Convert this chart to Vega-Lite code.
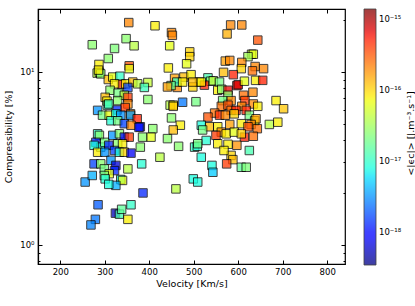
{
  "$schema": "https://vega.github.io/schema/vega-lite/v6.json",
  "width": 307,
  "height": 255,
  "autosize": {"type": "none"},
  "padding": {"left": 38, "top": 9, "right": 70, "bottom": 42},
  "background": "white",
  "config": {
    "font": "DejaVu Sans",
    "view": {"stroke": "#000", "strokeWidth": 1.2},
    "axis": {"domainColor": "#000", "domainWidth": 1.2, "tickColor": "#000", "labelColor": "#000", "titleColor": "#000", "labelFontSize": 8.5, "titleFontSize": 9.5, "titleFontWeight": "normal", "grid": false, "labelFont": "DejaVu Sans", "titleFont": "DejaVu Sans"}
  },
  "data": {"values": [
    {"v":354,"c":19.2,"e":2e-16},{"v":413,"c":18.4,"e":7.9e-17},{"v":450,"c":16.8,"e":2e-16},{"v":452,"c":16.2,"e":2e-16},{"v":446,"c":14.1,"e":6.3e-17},
    {"v":348,"c":15.5,"e":2.5e-17},{"v":366,"c":14.1,"e":4e-17},{"v":272,"c":14.3,"e":2.5e-17},{"v":322,"c":13.6,"e":2.2e-17},{"v":308,"c":11.9,"e":2.5e-17},
    {"v":583,"c":18.6,"e":2e-16},{"v":608,"c":18.6,"e":2e-16},{"v":575,"c":16.5,"e":1.4e-16},{"v":644,"c":15.2,"e":3.2e-16},{"v":491,"c":13.0,"e":1e-16},
    {"v":491,"c":12.2,"e":1e-16},{"v":484,"c":11.1,"e":6.3e-17},{"v":287,"c":11.0,"e":7.9e-17},{"v":283,"c":9.8,"e":4e-17},{"v":288,"c":9.9,"e":2.5e-17},
    {"v":355,"c":10.8,"e":3.2e-16},{"v":355,"c":10.4,"e":6.3e-17},{"v":443,"c":10.5,"e":7.9e-17},{"v":630,"c":12.6,"e":4.5e-17},{"v":634,"c":12.6,"e":6.3e-17},
    {"v":622,"c":12.2,"e":3.2e-17},{"v":571,"c":11.5,"e":1.6e-16},{"v":581,"c":11.6,"e":2e-16},{"v":608,"c":11.3,"e":2e-16},{"v":638,"c":10.7,"e":2e-16},
    {"v":657,"c":10.4,"e":2e-16},{"v":607,"c":10.4,"e":1e-16},{"v":567,"c":9.9,"e":1.26e-16},{"v":589,"c":9.6,"e":5e-16},{"v":632,"c":10.1,"e":2.5e-16},
    {"v":478,"c":9.3,"e":1.26e-16},{"v":494,"c":9.6,"e":7.9e-17},{"v":457,"c":9.15,"e":1.6e-16},{"v":463,"c":8.1,"e":2e-16},{"v":462,"c":8.7,"e":1e-17},
    {"v":449,"c":8.3,"e":2e-17},{"v":441,"c":8.15,"e":1.6e-16},{"v":513,"c":8.7,"e":7.9e-17},{"v":498,"c":8.15,"e":1e-16},{"v":532,"c":9.2,"e":1.26e-17},
    {"v":538,"c":8.8,"e":2.5e-17},{"v":544,"c":8.85,"e":4e-17},{"v":558,"c":8.7,"e":2e-17},{"v":524,"c":8.35,"e":5e-16},{"v":554,"c":7.8,"e":7.9e-17},
    {"v":563,"c":7.9,"e":2.5e-17},{"v":577,"c":7.8,"e":6.3e-16},{"v":597,"c":8.3,"e":6.3e-16},{"v":600,"c":8.4,"e":7.1e-16},{"v":614,"c":8.8,"e":6.3e-17},
    {"v":639,"c":8.9,"e":7.9e-17},{"v":655,"c":8.9,"e":5e-16},{"v":633,"c":7.6,"e":2e-16},{"v":577,"c":7.3,"e":2.5e-17},{"v":584,"c":6.8,"e":2e-16},
    {"v":612,"c":7.3,"e":2.5e-16},{"v":615,"c":6.8,"e":4e-16},{"v":565,"c":6.8,"e":2e-17},{"v":562,"c":6.3,"e":2.5e-16},{"v":577,"c":6.4,"e":3.2e-16},
    {"v":584,"c":5.97,"e":2.5e-16},{"v":634,"c":6.5,"e":2e-16},{"v":644,"c":6.3,"e":7.9e-17},{"v":608,"c":6.3,"e":2e-16},{"v":595,"c":5.97,"e":5e-16},
    {"v":618,"c":5.97,"e":5e-16},{"v":685,"c":6.8,"e":7.9e-17},{"v":702,"c":6.1,"e":1.12e-16},{"v":547,"c":5.76,"e":2.5e-16},{"v":532,"c":5.46,"e":3.2e-16},
    {"v":558,"c":5.6,"e":4.5e-16},{"v":571,"c":5.6,"e":2e-16},{"v":591,"c":5.7,"e":1e-16},{"v":625,"c":5.6,"e":2e-17},{"v":637,"c":5.2,"e":6.3e-17},
    {"v":640,"c":5.34,"e":1.6e-16},{"v":535,"c":4.8,"e":1.26e-16},{"v":554,"c":4.8,"e":7.9e-17},{"v":581,"c":4.95,"e":1.6e-16},{"v":607,"c":5.0,"e":7.9e-17},
    {"v":629,"c":4.95,"e":2e-16},{"v":643,"c":4.68,"e":2.5e-16},{"v":622,"c":4.8,"e":3.2e-16},{"v":670,"c":4.95,"e":4e-17},{"v":689,"c":5.1,"e":7.9e-17},
    {"v":562,"c":4.47,"e":1.8e-16},{"v":550,"c":4.28,"e":4e-16},{"v":573,"c":4.37,"e":7.9e-17},{"v":591,"c":4.47,"e":6.3e-17},{"v":614,"c":4.18,"e":5e-16},
    {"v":634,"c":4.23,"e":2.5e-16},{"v":607,"c":4.37,"e":1e-16},{"v":554,"c":3.83,"e":7.9e-17},{"v":577,"c":3.8,"e":7.9e-17},{"v":597,"c":3.75,"e":1.8e-16},
    {"v":625,"c":3.5,"e":1.26e-17},{"v":584,"c":3.28,"e":1e-16},{"v":588,"c":3.1,"e":1.26e-16},{"v":574,"c":2.93,"e":4e-16},{"v":568,"c":3.5,"e":7.9e-17},
    {"v":607,"c":2.8,"e":1.6e-17},{"v":618,"c":2.8,"e":2.2e-17},
    {"v":447,"c":6.4,"e":4e-17},{"v":454,"c":6.4,"e":7.9e-17},{"v":475,"c":6.65,"e":2.5e-18},{"v":505,"c":6.7,"e":2e-17},{"v":450,"c":5.4,"e":2.5e-17},
    {"v":454,"c":6.3,"e":1.12e-16},{"v":470,"c":4.9,"e":7.9e-17},{"v":454,"c":4.6,"e":1.26e-16},{"v":517,"c":4.9,"e":7.9e-18},{"v":520,"c":4.6,"e":2e-17},
    {"v":528,"c":4.0,"e":8.9e-18},{"v":441,"c":4.1,"e":2.5e-17},{"v":466,"c":3.7,"e":2.5e-17},{"v":502,"c":3.66,"e":1e-17},{"v":508,"c":3.7,"e":8.9e-18},
    {"v":509,"c":3.83,"e":2e-17},{"v":517,"c":3.2,"e":7.9e-18},{"v":424,"c":3.2,"e":4e-17},{"v":541,"c":2.87,"e":7.9e-18},{"v":543,"c":2.62,"e":5e-18},
    {"v":499,"c":2.4,"e":7.9e-18},{"v":509,"c":2.3,"e":7.9e-18},{"v":460,"c":2.1,"e":4e-17},{"v":475,"c":8.7,"e":7.9e-17},{"v":498,"c":8.7,"e":1.26e-16},
    {"v":517,"c":8.7,"e":7.9e-17},
    {"v":291,"c":9.7,"e":2.5e-17},{"v":286,"c":10.2,"e":7.9e-17},{"v":308,"c":9.0,"e":1.26e-16},{"v":318,"c":9.3,"e":6.3e-17},{"v":334,"c":9.4,"e":1e-17},
    {"v":338,"c":8.45,"e":4e-16},{"v":322,"c":8.5,"e":7.9e-17},{"v":347,"c":8.5,"e":7.9e-17},{"v":363,"c":8.7,"e":1.26e-16},{"v":374,"c":8.5,"e":4e-17},
    {"v":397,"c":8.65,"e":4.5e-17},{"v":389,"c":8.1,"e":1.12e-17},{"v":352,"c":8.1,"e":1.6e-18},{"v":312,"c":7.8,"e":2.5e-17},{"v":330,"c":7.5,"e":2e-17},
    {"v":344,"c":7.3,"e":4e-17},{"v":352,"c":7.1,"e":4e-16},{"v":301,"c":7.1,"e":1.26e-16},{"v":305,"c":6.75,"e":7.9e-17},{"v":306,"c":6.4,"e":1e-17},
    {"v":329,"c":6.8,"e":2.5e-17},{"v":352,"c":6.5,"e":2e-16},{"v":397,"c":6.9,"e":2.5e-17},{"v":284,"c":5.97,"e":3.2e-18},{"v":309,"c":6.5,"e":1.26e-17},
    {"v":328,"c":6.0,"e":1.26e-18},{"v":346,"c":6.2,"e":4e-16},{"v":358,"c":5.7,"e":2e-16},{"v":295,"c":5.6,"e":2e-17},{"v":310,"c":5.6,"e":6.3e-17},
    {"v":325,"c":5.7,"e":7.9e-18},{"v":336,"c":5.6,"e":3.2e-18},{"v":358,"c":5.6,"e":3.5e-18},{"v":373,"c":5.34,"e":5e-16},{"v":314,"c":5.2,"e":8.9e-18},
    {"v":329,"c":5.2,"e":2e-17},{"v":344,"c":5.0,"e":1.6e-18},{"v":359,"c":4.9,"e":2e-16},{"v":380,"c":4.8,"e":1.26e-18},{"v":408,"c":4.68,"e":2.5e-17},
    {"v":404,"c":4.18,"e":6.3e-17},{"v":385,"c":4.18,"e":2.5e-17},{"v":284,"c":4.37,"e":1e-17},{"v":288,"c":4.28,"e":2.5e-17},{"v":280,"c":3.9,"e":1.26e-18},
    {"v":291,"c":3.66,"e":7.9e-18},{"v":276,"c":3.75,"e":7.9e-18},{"v":300,"c":3.9,"e":2e-17},{"v":318,"c":4.28,"e":3.2e-18},{"v":333,"c":4.37,"e":2.5e-17},
    {"v":344,"c":4.18,"e":1e-18},{"v":355,"c":4.18,"e":4e-16},{"v":329,"c":3.83,"e":2.5e-17},{"v":340,"c":3.83,"e":7.9e-17},{"v":309,"c":3.75,"e":1.26e-18},
    {"v":284,"c":3.42,"e":7.9e-17},{"v":300,"c":3.42,"e":3.2e-18},{"v":322,"c":3.5,"e":1.6e-18},{"v":333,"c":3.42,"e":7.9e-18},{"v":344,"c":3.42,"e":1e-16},
    {"v":359,"c":3.38,"e":7.9e-19},{"v":380,"c":3.66,"e":2.5e-17},{"v":377,"c":4.76,"e":1e-18},{"v":276,"c":2.93,"e":1.6e-18},{"v":291,"c":2.93,"e":2.5e-17},
    {"v":314,"c":3.07,"e":3.2e-18},{"v":325,"c":2.87,"e":6.3e-19},{"v":352,"c":2.74,"e":4e-17},{"v":383,"c":2.93,"e":8.9e-18},{"v":299,"c":2.74,"e":2e-17},
    {"v":322,"c":2.68,"e":1.26e-18},{"v":310,"c":2.57,"e":6.3e-17},{"v":299,"c":2.51,"e":2e-17},{"v":301,"c":2.4,"e":8.9e-18},{"v":336,"c":2.38,"e":7.9e-18},
    {"v":340,"c":2.35,"e":6.3e-17},{"v":256,"c":2.3,"e":3.2e-18},{"v":272,"c":2.51,"e":4e-18},{"v":325,"c":2.2,"e":4e-18},{"v":309,"c":2.23,"e":7.9e-18},
    {"v":386,"c":1.99,"e":1.26e-18},{"v":285,"c":1.7,"e":2e-18},{"v":359,"c":1.7,"e":1e-17},{"v":324,"c":1.52,"e":5e-19},{"v":333,"c":1.5,"e":1.26e-17},
    {"v":338,"c":1.6,"e":1.6e-17},{"v":352,"c":1.4,"e":7.9e-17},{"v":279,"c":1.4,"e":2.5e-18},{"v":269,"c":1.3,"e":2.8e-18}
  ]},
  "layer": [
    {
      "mark": {"type": "square", "size": 72, "stroke": "#000", "strokeWidth": 1, "opacity": 0.75},
      "encoding": {
        "x": {"field": "v", "type": "quantitative",
              "scale": {"domain": [150, 840], "nice": false, "zero": false},
              "axis": {"title": "Velocity [Km/s]", "values": [200, 300, 400, 500, 600, 700, 800], "tickSize": -4, "labelPadding": 7, "titlePadding": 3}},
        "y": {"field": "c", "type": "quantitative",
              "scale": {"type": "log", "domain": [0.773, 23], "nice": false},
              "axis": {"title": "Compressibility [%]", "values": [0.8, 0.9, 1, 2, 3, 4, 5, 6, 7, 8, 9, 10, 20],
                       "labelExpr": "datum.value == 1 ? '10⁰' : datum.value == 10 ? '10¹' : ''",
                       "tickSize": {"condition": {"test": "datum.value == 1 || datum.value == 10", "value": -4}, "value": -2},
                       "labelPadding": 8, "titlePadding": 6}},
        "color": {"field": "e", "type": "quantitative",
                  "scale": {"type": "log", "interpolate": "rgb",
                            "domain": [3.39e-19, 8.45e-19, 9.57e-19, 5.71e-18, 7.65e-18, 6.92e-17, 7.52e-17, 8.18e-17, 5.53e-16, 6.53e-16, 1.38e-15],
                            "range": ["#000080", "#0000ff", "#0000ff", "#00dbff", "#14ffe2", "#eeff08", "#f7f500", "#ffec00", "#ff1300", "#e80000", "#800000"]},
                  "legend": {"orient": "none", "legendX": 326, "legendY": 0, "direction": "vertical",
                             "gradientLength": 256, "gradientThickness": 12, "gradientStrokeColor": "#000", "gradientStrokeWidth": 0.8,
                             "values": [1e-18, 1e-17, 1e-16, 1e-15],
                             "labelExpr": "datum.value > 5e-16 ? '10⁻¹⁵' : datum.value > 5e-17 ? '10⁻¹⁶' : datum.value > 5e-18 ? '10⁻¹⁷' : '10⁻¹⁸'",
                             "labelFontSize": 8.5, "labelColor": "#000", "labelOffset": 3,
                             "title": null}}
      }
    },
    {
      "mark": {"type": "square", "opacity": 0},
      "encoding": {
        "x": {"field": "v", "type": "quantitative",
              "axis": {"orient": "top", "title": null, "labels": false, "domain": false, "values": [200, 300, 400, 500, 600, 700, 800], "tickSize": -4}},
        "y": {"field": "c", "type": "quantitative",
              "axis": {"orient": "right", "labels": false, "domain": false, "values": [0.8, 0.9, 1, 2, 3, 4, 5, 6, 7, 8, 9, 10, 20],
                       "tickSize": {"condition": {"test": "datum.value == 1 || datum.value == 10", "value": -4}, "value": -2},
                       "title": "<|ϵc|> [J.m⁻³.s⁻¹]", "titleAngle": 270, "titleX": 65, "titleY": 124,
                       "titleAlign": "center", "titleBaseline": "middle", "titleFontSize": 9.5}}
      }
    }
  ],
  "resolve": {"axis": {"x": "independent", "y": "independent"}}
}
